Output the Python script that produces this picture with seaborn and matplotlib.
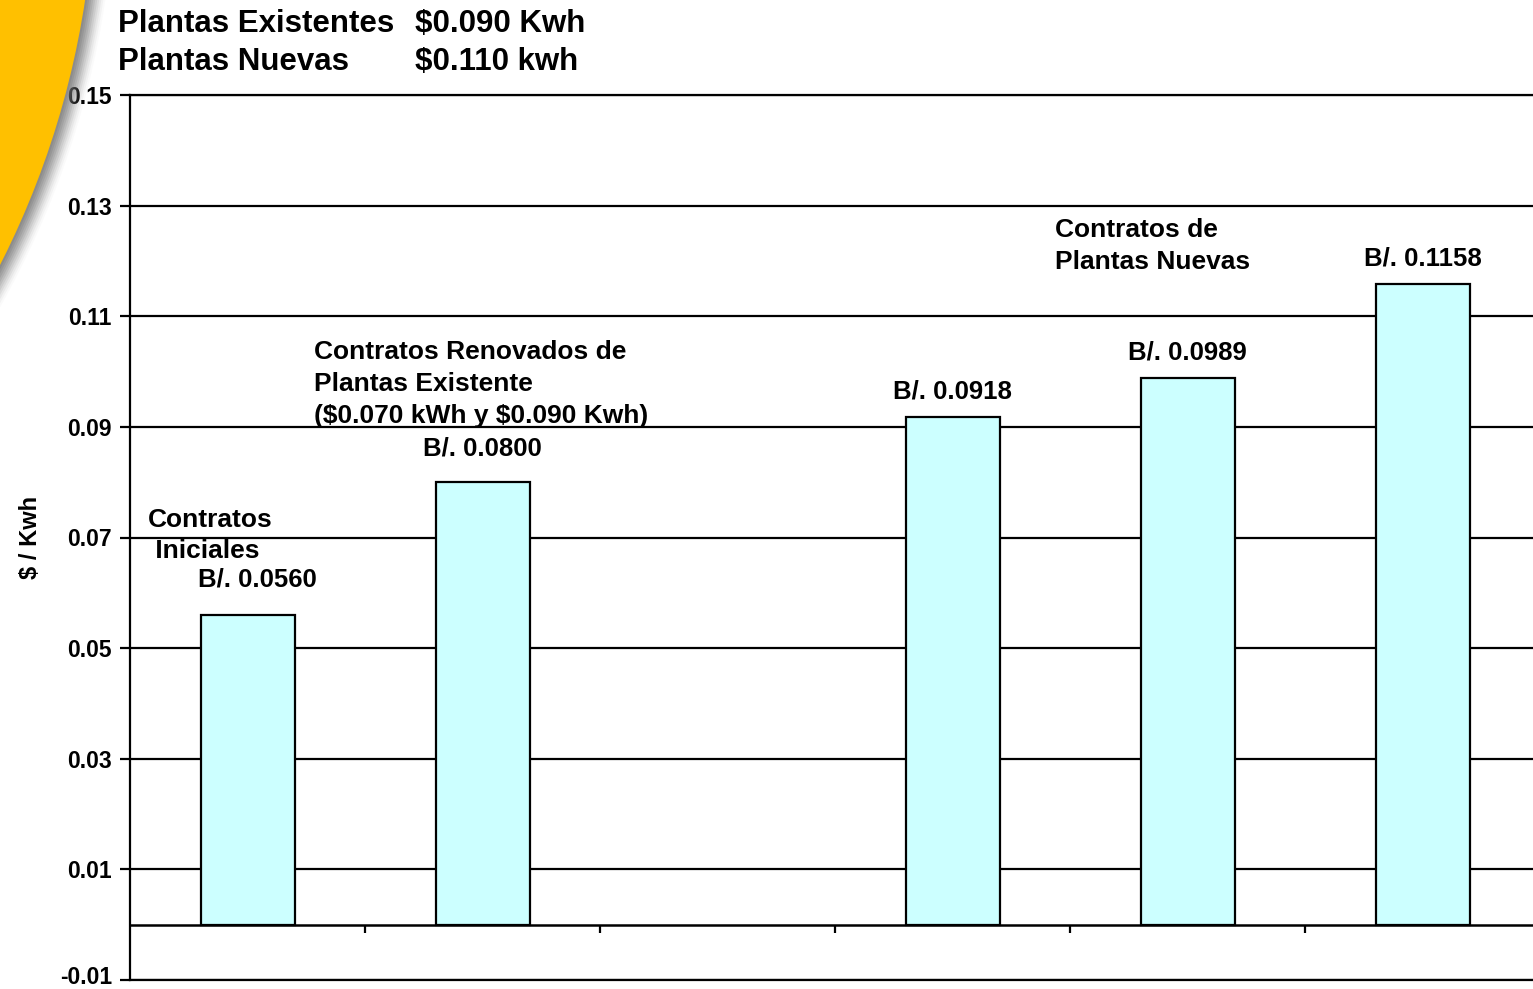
import numpy as np
import pandas as pd
import matplotlib
matplotlib.use("Agg")
import matplotlib.pyplot as plt
from matplotlib.patches import Ellipse
from matplotlib.transforms import ScaledTranslation
import seaborn as sns

# datos
categorias = ["Iniciales", "Renovados", "Sin contrato", "Nuevas A", "Nuevas B", "Nuevas C"]
tarifas = [0.0560, 0.0800, np.nan, 0.0918, 0.0989, 0.1158]
etiquetas = ["B/. 0.0560", "B/. 0.0800", "", "B/. 0.0918", "B/. 0.0989", "B/. 0.1158"]
y_ticks = [-0.01, 0.01, 0.03, 0.05, 0.07, 0.09, 0.11, 0.13, 0.15]

titulo_izq = ["Plantas Existentes", "Plantas Nuevas"]
titulo_der = ["$0.090 Kwh", "$0.110 kwh"]
nota_iniciales = ["Contratos", " Iniciales"]
nota_renovados = ["Contratos Renovados de", "Plantas Existente", "($0.070 kWh y $0.090 Kwh)"]
nota_nuevas = ["Contratos de", "Plantas Nuevas"]

df = pd.DataFrame({"categoria": categorias, "tarifa": tarifas})

W, H = 1533, 989
sns.set_theme(style="white")
plt.rcParams["font.family"] = ["Liberation Sans", "DejaVu Sans"]
plt.rcParams["font.weight"] = "bold"
plt.rcParams["text.parse_math"] = False
plt.rcParams["text.color"] = "black"
plt.rcParams["axes.labelcolor"] = "black"
plt.rcParams["ytick.color"] = "black"

fig = plt.figure(figsize=(W / 100, H / 100), dpi=100)
fig.patch.set_facecolor("white")

# decoracion naranja (esquina superior izquierda) con sombra gris
cx, cy, r = -778, H + 131, 873
for k, a in zip(range(20, 0, -2), np.linspace(0.03, 0.25, 10)):
    fig.patches.append(Ellipse((cx / W, cy / H), 2 * (r + k) / W, 2 * (r + k) / H,
                               transform=fig.transFigure, facecolor="#6f6f6f",
                               edgecolor="none", alpha=a, zorder=0))
fig.patches.append(Ellipse((cx / W, cy / H), 2 * r / W, 2 * r / H,
                           transform=fig.transFigure, facecolor="#FFC000",
                           edgecolor="none", zorder=1))

ax = fig.add_axes([130 / W, 1 - 980 / H, 1410 / W, 885 / H])
ax.set_facecolor("white")

sns.barplot(data=df, x="categoria", y="tarifa", order=categorias, ax=ax,
            color="#CCFFFF", edgecolor="black", linewidth=1.6, width=0.4,
            errorbar=None, saturation=1, zorder=3)

ax.set_ylim(-0.01, 0.15)
ax.set_xlim(-0.5, len(categorias) - 0.5)
ax.set_yticks(y_ticks)
ax.set_yticklabels([f"{t:.2f}" for t in y_ticks], fontsize=16.5, fontweight="bold")
ax.yaxis.grid(True, color="black", linewidth=1.6)
ax.set_axisbelow(True)
ax.tick_params(axis="y", left=True, length=7, width=1.6, color="black", pad=6)
ax.set_xticks([])
ax.set_xlabel("")
ax.set_ylabel("$ / Kwh", fontsize=17, fontweight="bold")
ax.yaxis.set_label_coords((42 - 130) / 1410, 0.5)
for s in ax.spines.values():
    s.set_color("black")
    s.set_linewidth(1.6)

# la etiqueta -0.01 queda un poco por encima para no cortarse
lbl = ax.get_yticklabels()[0]
lbl.set_transform(lbl.get_transform() + ScaledTranslation(0, 5 / 100, fig.dpi_scale_trans))

# eje de categorias en y = 0 con marcas entre grupos
ax.axhline(0, color="black", linewidth=1.8, zorder=4)
limites = np.arange(len(categorias) - 1) + 0.5
ax.vlines(limites, -0.00145, 0, color="black", linewidth=1.6, zorder=4)

# etiquetas de valor
desp_px = [28, 27, 0, 18, 18, 19]
desp_x = [10, 0, 0, 0, 0, 0]
for i, (v, txt) in enumerate(zip(tarifas, etiquetas)):
    if np.isnan(v):
        continue
    ax.annotate(txt, xy=(i, v), xytext=(desp_x[i] / 1.389, desp_px[i] / 1.389),
                textcoords="offset points", ha="center", va="baseline",
                fontsize=18.5, fontweight="bold")


def lineas(textos, x, y0, paso, size):
    for j, t in enumerate(textos):
        fig.text(x / W, 1 - (y0 + j * paso) / H, t, ha="left", va="baseline",
                 fontsize=size, fontweight="bold")


lineas(titulo_izq, 118, 32, 38, 22.5)
lineas(titulo_der, 415, 32, 38, 22.5)
lineas(nota_iniciales[:1], 148, 527, 31, 19)
lineas(nota_iniciales[1:], 148, 558, 31, 19)
lineas(nota_renovados, 314, 359, 32, 19)
lineas(nota_nuevas, 1055, 237, 32, 19)

fig.savefig("out.png", dpi=100)
